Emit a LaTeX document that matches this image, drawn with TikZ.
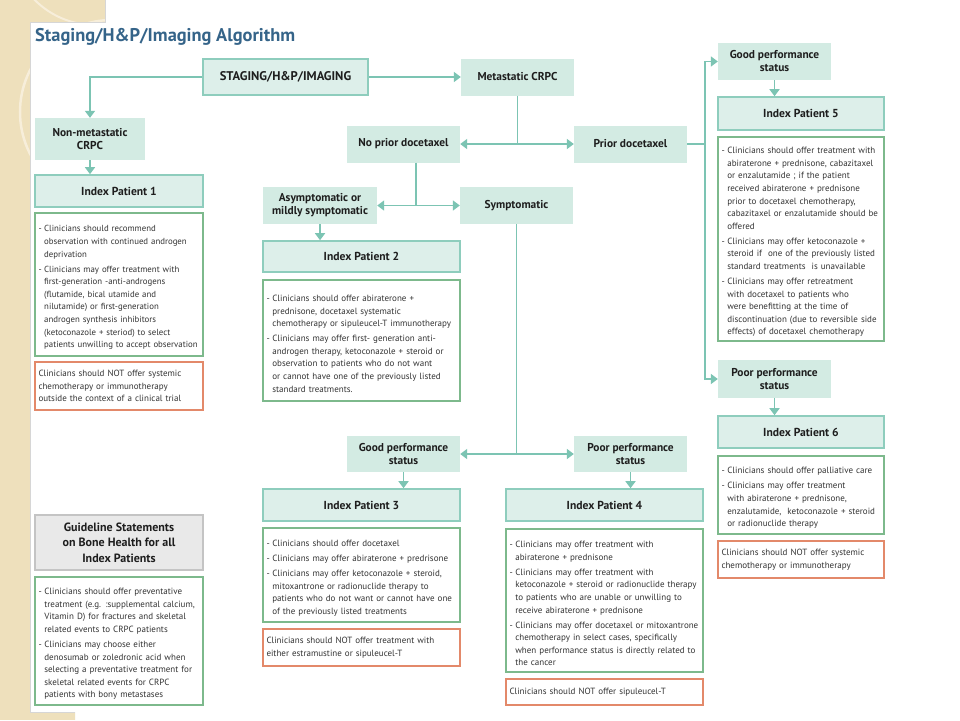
\documentclass[tikz,border=0pt]{standalone}
\usepackage{fontspec}
\setmainfont{PT Sans}
\usetikzlibrary{arrows.meta}
\definecolor{beige}{HTML}{EEE0BC}
\definecolor{beigel}{HTML}{F7EEDA}
\definecolor{decfill}{HTML}{D3EBE3}
\definecolor{hdrfill}{HTML}{DDEFEA}
\definecolor{hdrline}{HTML}{8ECDBD}
\definecolor{arrowc}{HTML}{7CC4B3}
\definecolor{greenl}{HTML}{7DB98C}
\definecolor{orangel}{HTML}{E3896A}
\definecolor{grayfill}{HTML}{E9E9E9}
\definecolor{grayline}{HTML}{C4C4C4}
\definecolor{bodyc}{HTML}{333333}
\definecolor{labc}{HTML}{1E1E1E}
\definecolor{titlec}{HTML}{356489}
\hyphenpenalty=10000
\exhyphenpenalty=10000
\hfuzz=30pt
\hbadness=10000
\newcommand\bitem{\par\hangindent=0.65em\hangafter=1\noindent\let\\\newline\makebox[0.65em][l]{-}}
\newcommand\bgap{\par\vspace{2.4pt}}
\tikzset{
  dec/.style={fill=decfill, draw=none, inner sep=2pt, align=center, text=labc,
    font=\bfseries\fontsize{11.4}{13}\selectfont},
  hdr/.style={fill=hdrfill, draw=hdrline, line width=1.6pt, align=center, text=labc,
    font=\bfseries\fontsize{11.6}{13}\selectfont},
  gbox/.style={draw=greenl, line width=1.4pt, fill=white, inner sep=3.5pt, align=left, text=bodyc,
    font=\fontsize{9}{12.6}\selectfont},
  obox/.style={draw=orangel, line width=1.4pt, fill=white, inner sep=3.5pt, align=left, text=bodyc,
    font=\fontsize{9}{12.6}\selectfont},
  graybox/.style={fill=grayfill, draw=grayline, line width=1.2pt, align=center, text=labc,
    font=\bfseries\fontsize{12}{15.5}\selectfont},
  arr/.style={draw=arrowc, line width=1.6pt, -{Triangle[length=7pt,width=10pt]}},
  ln/.style={draw=arrowc, line width=1.6pt},
  ttlstyle/.style={text=titlec, inner sep=0pt, font=\bfseries\fontsize{18.4}{21}\selectfont},
}
\begin{document}
\begin{tikzpicture}[x=1pt,y=-1pt]
\useasboundingbox (0,0) rectangle (960,720);
% background
\fill[white] (0,0) rectangle (960,720);
\begin{scope}
\clip (0,0) -- (105,0) -- (105,22) -- (30,22) -- (30,712) -- (75,712) -- (75,720) -- (0,720) -- cycle;
\fill[beige] (0,0) rectangle (105,720);
\draw[beigel, line width=2.5pt] (112,112) circle (92);
\draw[beigel, line width=2pt] (95,-60) circle (85);
\end{scope}
\draw[grayline!70, line width=0.8pt] (105,0) -- (105,22) -- (30,22) -- (30,712) -- (75,712);

% title
\node[ttlstyle, anchor=west] (ttl) at (35,37) {Staging/H\&P/Imaging Algorithm};

% decision / header boxes
\node[hdr, minimum width=165, minimum height=36, font=\bfseries\fontsize{12.6}{14}\selectfont] (stg) at (285.5,77) {STAGING/H\&P/IMAGING};
\node[dec, minimum width=113, minimum height=37] (met) at (517.5,77) {Metastatic CRPC};
\node[dec, minimum width=110, minimum height=42] (nm) at (90,139) {Non-metastatic\\CRPC};
\node[hdr, minimum width=168, minimum height=32] (ip1) at (119,191) {Index Patient 1};
\node[dec, minimum width=113, minimum height=37] (nopd) at (403.5,144) {No prior docetaxel};
\node[dec, minimum width=113, minimum height=37] (pd) at (630.5,144) {Prior docetaxel};
\node[dec, minimum width=114, minimum height=37] (asym) at (320,205.5) {Asymptomatic or\\mildly symptomatic};
\node[dec, minimum width=113, minimum height=37] (symp) at (516.5,205.5) {Symptomatic};
\node[hdr, minimum width=197, minimum height=31] (ip2) at (361.5,256.5) {Index Patient 2};
\node[dec, minimum width=113, minimum height=36] (good3) at (403.5,454) {Good performance\\status};
\node[dec, minimum width=113, minimum height=36] (poor4) at (630.5,454) {Poor performance\\status};
\node[hdr, minimum width=197, minimum height=32] (ip3) at (361.5,505) {Index Patient 3};
\node[hdr, minimum width=197, minimum height=32] (ip4) at (604.5,505) {Index Patient 4};
\node[dec, minimum width=113, minimum height=37] (good5) at (774.5,61.5) {Good performance\\status};
\node[hdr, minimum width=166, minimum height=33] (ip5) at (801,113.5) {Index Patient 5};
\node[dec, minimum width=113, minimum height=38] (poor6) at (774.5,379) {Poor performance\\status};
\node[hdr, minimum width=166, minimum height=32] (ip6) at (801,432) {Index Patient 6};
\node[graybox, minimum width=168, minimum height=55] (gl) at (119,542.5) {Guideline Statements\\on Bone Health for all\\Index Patients};

% text boxes
\node[gbox, text width=161, minimum height=143, font=\fontsize{8.8}{12.6}\selectfont] (t1) at (119,284.5) {%
\bitem Clinicians should recommend\\\mbox{observation with continued androgen}\\deprivation\bgap
\bitem \mbox{Clinicians may offer treatment with}\\first-generation -anti-androgens\\(flutamide, bical utamide and\\nilutamide) or first-generation\\androgen synthesis inhibitors\\\mbox{(ketoconazole + steriod) to select}\\\mbox{patients unwilling to accept observation}\par};
\node[obox, text width=161, minimum height=48] (o1) at (119,386) {%
Clinicians should NOT offer systemic\\chemotherapy or immunotherapy\\\mbox{outside the context of a clinical trial}};
\node[gbox, text width=190, minimum height=121] (t2) at (361.5,340.5) {%
\bitem Clinicians should offer abiraterone +\\prednisone, docetaxel systematic\\\mbox{chemotherapy or sipuleucel-T immunotherapy}\bgap
\bitem \mbox{Clinicians may offer first- generation anti-}\\\mbox{androgen therapy, ketoconazole + steroid or}\\observation to patients who do not want\\\mbox{or cannot have one of the previously listed}\\standard treatments.\par};
\node[gbox, text width=190, minimum height=94] (t3) at (361.5,575) {%
\bitem Clinicians should offer docetaxel\bgap
\bitem \mbox{Clinicians may offer abiraterone + predrisone}\bgap
\bitem \mbox{Clinicians may offer ketoconazole + steroid,}\\mitoxantrone or radionuclide therapy to\\\mbox{patients who do not want or cannot have one}\\of the previously listed treatments\par};
\node[obox, text width=190, minimum height=37] (o3) at (361.5,647.5) {%
\mbox{Clinicians should NOT offer treatment with}\\either estramustine or sipuleucel-T};
\node[gbox, text width=190, minimum height=143] (t4) at (604.5,600.5) {%
\bitem Clinicians may offer treatment with\\abiraterone + prednisone\bgap
\bitem Clinicians may offer treatment with\\\mbox{ketoconazole + steroid or radionuclide therapy}\\\mbox{to patients who are unable or unwilling to}\\receive abiraterone + prednisone\bgap
\bitem \mbox{Clinicians may offer docetaxel or mitoxantrone}\\chemotherapy in select cases, specifically\\\mbox{when performance status is directly related to}\\the cancer\par};
\node[obox, text width=190, minimum height=26] (o4) at (604.5,692) {%
Clinicians should NOT offer sipuleucel-T};
\node[gbox, text width=159, minimum height=204] (t5) at (801,239) {%
\bitem \mbox{Clinicians should offer treatment with}\\\mbox{abiraterone + prednisone, cabazitaxel}\\or enzalutamide ; if the patient\\received abiraterone + prednisone\\prior to docetaxel chemotherapy,\\\mbox{cabazitaxel or enzalutamide should be}\\offered\bgap
\bitem Clinicians may offer ketoconazole +\\\mbox{steroid if~ one of the previously listed}\\\mbox{standard treatments~ is unavailable}\bgap
\bitem Clinicians may offer retreatment\\with docetaxel to patients who\\were benefitting at the time of\\\mbox{discontinuation (due to reversible side}\\\mbox{effects) of docetaxel chemotherapy}\par};
\node[gbox, text width=159, minimum height=78] (t6) at (801,495) {%
\bitem \mbox{Clinicians should offer palliative care}\bgap
\bitem Clinicians may offer treatment\\with abiraterone + prednisone,\\\mbox{enzalutamide,~ ketoconazole + steroid}\\or radionuclide therapy\par};
\node[obox, text width=159, minimum height=37] (o6) at (801,559.5) {%
Clinicians should NOT offer systemic\\chemotherapy or immunotherapy};
\node[gbox, text width=161, minimum height=128] (tg) at (119,641) {%
\bitem \mbox{Clinicians should offer preventative}\\\mbox{treatment (e.g. :supplemental calcium,}\\\mbox{Vitamin D) for fractures and skeletal}\\related events to CRPC patients\bgap
\bitem Clinicians may choose either\\\mbox{denosumab or zoledronic acid when}\\\mbox{selecting a preventative treatment for}\\skeletal related events for CRPC\\patients with bony metastases\par};

% connectors
\draw[arr] (stg.east) -- (met.west);
\draw[arr] (stg.west) -| (nm.north);
\draw[arr] (nm.south) -- (nm.south |- ip1.north);

\coordinate (j1) at (met.south |- nopd.east);
\draw[ln] (met.south) -- (j1);
\draw[arr] (j1) -- (nopd.east);
\draw[arr] (j1) -- (pd.west);

\coordinate (n1) at (416,162.5);
\coordinate (j2) at (416,205.5);
\draw[ln] (n1) -- (j2);
\draw[arr] (j2) -- (asym.east);
\draw[arr] (j2) -- (symp.west);
\draw[arr] (asym.south) -- (asym.south |- ip2.north);

\coordinate (j3) at (symp.south |- good3.east);
\draw[ln] (symp.south) -- (j3);
\draw[arr] (j3) -- (good3.east);
\draw[arr] (j3) -- (poor4.west);
\draw[arr] (good3.south) -- (good3.south |- ip3.north);
\draw[arr] (poor4.south) -- (poor4.south |- ip4.north);

\coordinate (jx) at (705,144);
\draw[ln] (pd.east) -- (jx);
\draw[arr] (jx) |- (good5.west);
\draw[arr] (jx) |- (poor6.west);
\draw[arr] (good5.south) -- (good5.south |- ip5.north);
\draw[arr] (poor6.south) -- (poor6.south |- ip6.north);
\end{tikzpicture}
\end{document}
